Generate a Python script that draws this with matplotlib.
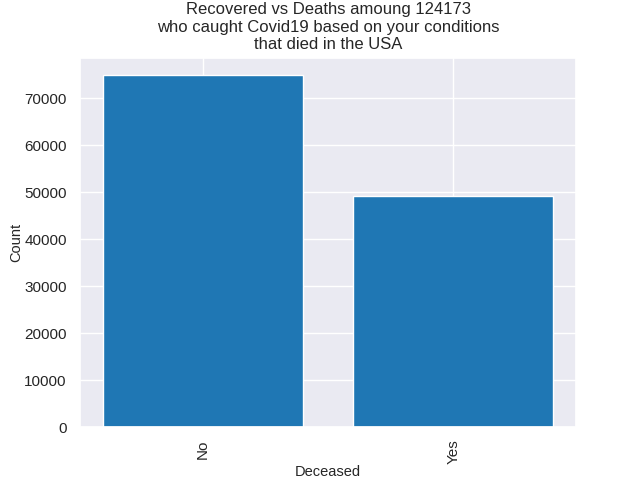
import numpy as np
import matplotlib
matplotlib.use("Agg")
import matplotlib.pyplot as plt
import seaborn as sns

# counts of deceased / not deceased
categories = ["No", "Yes"]
counts = [74900, 49273]

sns.set_theme(style="darkgrid")
plt.rcParams['font.family'] = ['Liberation Sans', 'DejaVu Sans']

fig, ax = plt.subplots(figsize=(6.4, 4.8), dpi=100)
ax.bar(categories, counts, color="#1f77b4")
ax.set_title("Recovered vs Deaths amoung 124173\nwho caught Covid19 based on your conditions\nthat died in the USA")
ax.set_xlabel("Deceased", fontsize=10.5, labelpad=0.5)
ax.set_ylabel("Count", fontsize=10.5, labelpad=0.5)
plt.xticks(rotation=90)
ax.tick_params(axis="x", pad=3)

fig.savefig("out.png")
